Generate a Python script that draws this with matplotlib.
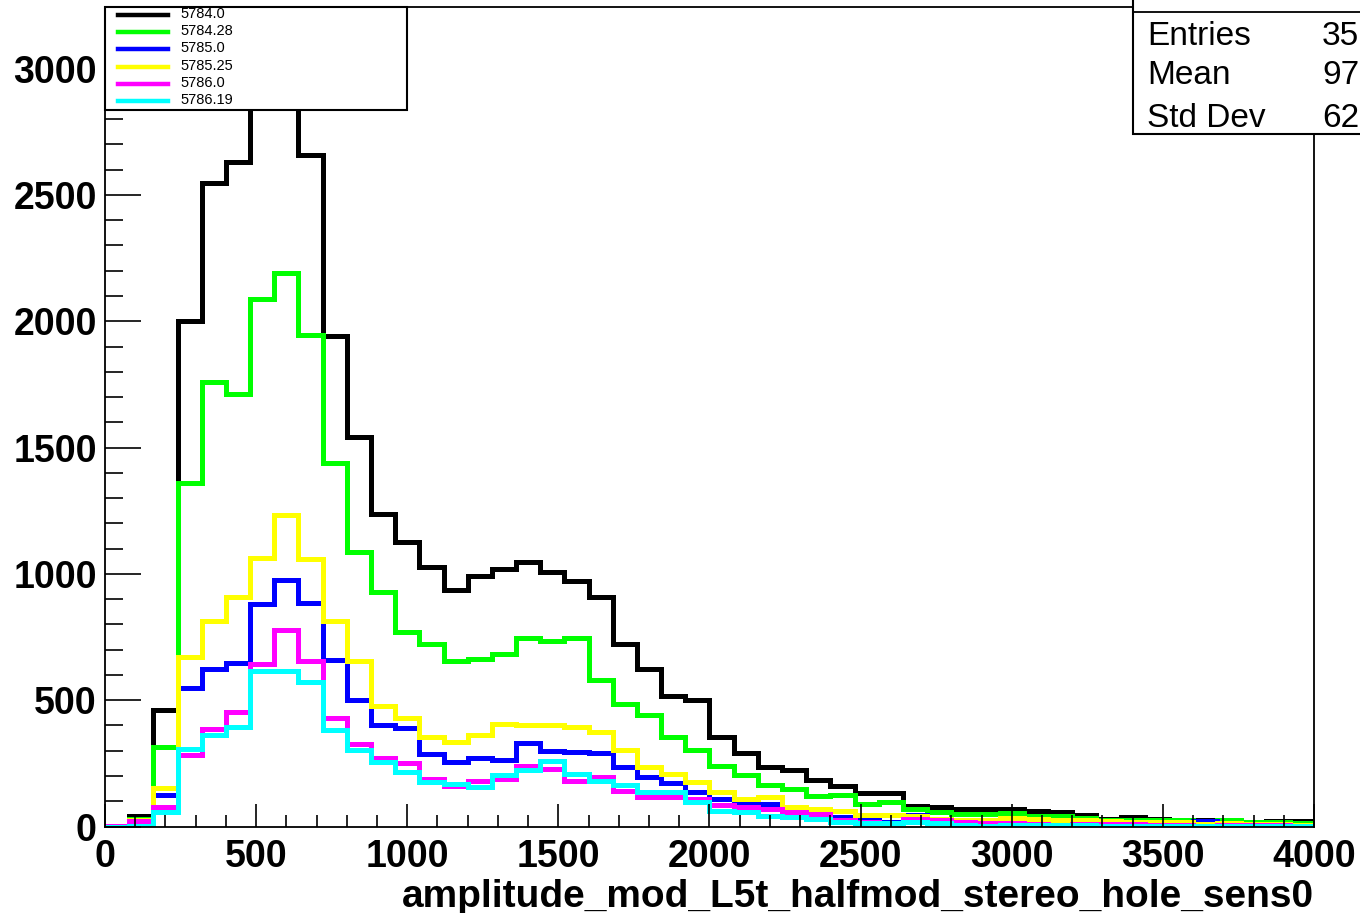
import numpy as np
import matplotlib
matplotlib.use("Agg")
import matplotlib.pyplot as plt
from matplotlib.patches import Rectangle
from matplotlib.lines import Line2D
from matplotlib.ticker import MultipleLocator

plt.rcParams['font.family'] = ['Liberation Sans', 'DejaVu Sans']

# 50 bins of width 80 from 0 to 4000
edges = np.arange(0, 4001, 80)

run_labels = ['5784.0', '5784.28', '5785.0', '5785.25', '5786.0', '5786.19']
run_colors = ['#000000', '#00ff00', '#0000ff', '#ffff00', '#ff00ff', '#00ffff']

h_5784_0 = [3, 40, 463, 2000, 2548, 2630, 2950, 3087, 2658, 1940,
            1540, 1236, 1128, 1026, 937, 993, 1020, 1046, 1006, 973,
            907, 723, 624, 518, 499, 353, 290, 237, 224, 185,
            160, 132, 132, 80, 77, 70, 70, 70, 61, 57,
            47, 30, 37, 30, 24, 24, 24, 17, 20, 20]
h_5784_28 = [3, 28, 314, 1361, 1760, 1714, 2088, 2192, 1945, 1438,
             1085, 927, 769, 723, 657, 663, 683, 746, 736, 746,
             578, 483, 443, 353, 303, 241, 202, 166, 149, 119,
             123, 90, 96, 70, 57, 50, 50, 53, 42, 40,
             32, 26, 24, 26, 26, 17, 26, 17, 17, 15]
h_5785_0 = [2, 20, 123, 550, 625, 646, 881, 976, 885, 660,
            499, 400, 389, 288, 255, 272, 265, 330, 298, 294,
            290, 235, 195, 171, 136, 110, 90, 90, 63, 57,
            37, 24, 17, 47, 30, 17, 10, 15, 15, 22,
            12, 10, 15, 10, 8, 20, 6, 6, 5, 5]
h_5785_25 = [3, 25, 151, 670, 812, 910, 1061, 1234, 1060, 815,
             657, 476, 430, 353, 334, 364, 404, 400, 400, 393,
             373, 301, 237, 209, 175, 136, 110, 116, 79, 70,
             63, 47, 47, 40, 30, 24, 24, 33, 30, 26,
             24, 20, 17, 17, 17, 10, 14, 10, 8, 5]
h_5786_0 = [2, 20, 79, 285, 387, 452, 644, 778, 657, 429,
            327, 272, 251, 189, 162, 179, 189, 241, 228, 182,
            195, 142, 116, 116, 110, 87, 77, 70, 57, 50,
            24, 17, 12, 30, 24, 17, 15, 12, 10, 3,
            10, 8, 8, 6, 5, 2, 6, 4, 4, 3]
h_5786_19 = [0, 2, 57, 307, 363, 393, 617, 615, 571, 383,
             301, 254, 215, 175, 169, 158, 202, 222, 261, 209,
             182, 166, 136, 136, 96, 63, 57, 43, 37, 30,
             17, 12, 12, 17, 12, 5, 3, 5, 5, 4,
             4, 3, 3, 2, 2, 2, 2, 2, 1, 1]

runs = [h_5784_0, h_5784_28, h_5785_0, h_5785_25, h_5786_0, h_5786_19]

# only the first digits of the stats are visible in the original
stat_names = ['Entries', 'Mean', 'Std Dev']
stat_values = ['35', '97', '62']

x_label = 'amplitude_mod_L5t_halfmod_stereo_hole_sens0'

W, H = 1360, 913


def fx(px):
    return px / W


def fy(py):
    return 1 - py / H


fig = plt.figure(figsize=(W / 100, H / 100), dpi=100)
ax = fig.add_axes([fx(105), fy(826.5), fx(1314) - fx(105), fy(7) - fy(826.5)])

for vals, col in zip(runs, run_colors):
    ax.stairs(vals, edges, color=col, linewidth=3.6, baseline=0)

ax.set_xlim(0, 4000)
ax.set_ylim(0, 3244)
ax.xaxis.set_major_locator(MultipleLocator(500))
ax.xaxis.set_minor_locator(MultipleLocator(100))
ax.yaxis.set_major_locator(MultipleLocator(500))
ax.yaxis.set_minor_locator(MultipleLocator(100))
ax.tick_params(which='both', direction='in', top=False, right=False, width=1.2)
ax.tick_params(axis='x', which='major', length=16.5, labelsize=27, pad=9)
ax.tick_params(axis='x', which='minor', length=8.5)
ax.tick_params(axis='y', which='major', length=26, labelsize=27, pad=6)
ax.tick_params(axis='y', which='minor', length=13)
for lab in ax.get_xticklabels() + ax.get_yticklabels():
    lab.set_fontweight('bold')
for sp in ax.spines.values():
    sp.set_linewidth(1.3)

ax.set_xlabel(x_label, fontsize=28, fontweight='bold', loc='right')
ax.xaxis.set_label_coords(1.0, (826.5 - 879) / 819.5)

# legend box (top left)
leg_box = Rectangle((fx(105), fy(110)), fx(407) - fx(105), fy(7) - fy(110),
                    transform=fig.transFigure, facecolor='white',
                    edgecolor='black', linewidth=1.5)
fig.add_artist(leg_box)
for i, (lab, col) in enumerate(zip(run_labels, run_colors)):
    yl = 15 + i * 17.2
    fig.add_artist(Line2D([fx(118), fx(168)], [fy(yl), fy(yl)],
                          transform=fig.transFigure, color=col, linewidth=3.2))
    t = fig.text(fx(180), fy(yl + 3), lab, fontsize=10.5, va='baseline', ha='left')
    t.set_clip_path(leg_box)

# stats box (top right, runs past the canvas edge)
stat_box = Rectangle((fx(1133), fy(134)), fx(1400) - fx(1133), fy(-5) - fy(134),
                     transform=fig.transFigure, facecolor='white',
                     edgecolor='black', linewidth=1.5)
fig.add_artist(stat_box)
fig.add_artist(Line2D([fx(1133), 1.0], [fy(12), fy(12)],
                      transform=fig.transFigure, color='black', linewidth=1.3))
for i, (name, val) in enumerate(zip(stat_names, stat_values)):
    yb = [45, 84, 127][i]
    fig.text(fx(1147), fy(yb), name, fontsize=24, va='baseline', ha='left')
    fig.text(fx(1322), fy(yb), val, fontsize=24, va='baseline', ha='left')

fig.savefig('out.png', dpi=100)
